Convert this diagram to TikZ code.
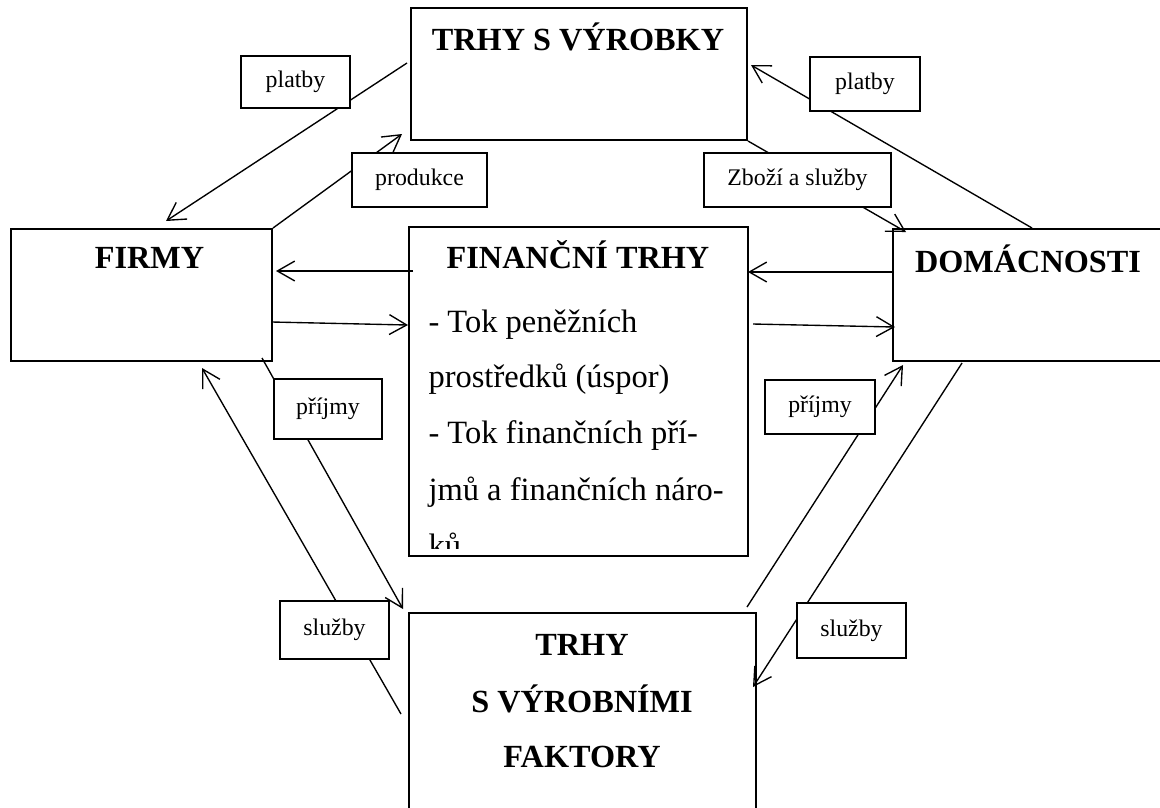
\documentclass[tikz,border=0pt]{standalone}
\usepackage{fontspec}
\setmainfont{Liberation Serif}
\usetikzlibrary{arrows.meta,positioning}

\tikzset{
	mainbox/.style={draw, line width=0.8pt, inner sep=0pt},
	flowlabel/.style={draw, fill=white, line width=0.6pt, inner sep=0pt, font=\fontsize{9.6}{11.5}\selectfont},
	headtext/.style={font=\fontsize{13}{16}\selectfont\bfseries, anchor=base, inner sep=0pt},
	bodytext/.style={font=\fontsize{13.1}{16}\selectfont, anchor=base west, inner sep=0pt},
	flow/.style={-{Straight Barb[length=7pt,width=8pt]}, line width=0.55pt},
}

\begin{document}
\begin{tikzpicture}[x=0.403pt, y=-0.403pt]
	\def\pxu{0.403pt}
	\useasboundingbox (0,0) rectangle (1160,807);
	
	% main boxes
	\node[mainbox, minimum width=336*\pxu, minimum height=132*\pxu] (vyrobky) at (579,74) {};
	\node[mainbox, minimum width=339*\pxu, minimum height=329*\pxu] (financni) at (578.5,391.5) {};
	\node[mainbox, minimum width=347*\pxu, minimum height=287*\pxu] (faktory) at (582.5,756.5) {};
	\node[mainbox, minimum width=261*\pxu, minimum height=132*\pxu] (firmy) at (141.5,295) {};
	\node[mainbox, minimum width=307*\pxu, minimum height=132*\pxu] (domacnosti) at (1046.5,295) {};
	
	% texts of the boxes
	\node[headtext] (vyrobkyT) at (578,50) {TRHY S VÝROBKY};
	\node[headtext] (firmyT) at (149.5,268) {FIRMY};
	\node[headtext] (domacnostiT) at (1028,272) {DOMÁCNOSTI};
	\node[headtext] (financniT) at (578,268) {FINANČNÍ TRHY};
	\node[bodytext] (fin1) at (428,332) {- Tok peněžních};
	\node[bodytext] (fin2) at (428,387) {prostředků (úspor)};
	\node[bodytext] (fin3) at (428,443) {- Tok finančních pří-};
	\node[bodytext] (fin4) at (428,500) {jmů a finančních náro-};
	\begin{scope}
		\clip (409,227) rectangle (748,548);
		\node[bodytext] (fin5) at (428,556) {ků};
	\end{scope}
	\node[headtext] (faktory1) at (582,655) {TRHY};
	\node[headtext] (faktory2) at (582,712) {S VÝROBNÍMI};
	\node[headtext] (faktory3) at (582,767) {FAKTORY};
	
	% end points of the flows
	\path (407,63) coordinate (platbyLs);
	\path (166,221) coordinate (platbyLe);
	\path (402,134) coordinate (produkceE);
	\path (906,232) coordinate (zboziE);
	\path (1032,228) coordinate (platbyRs);
	\path (751,65) coordinate (platbyRe);
	\path (413,271) coordinate (finFs);
	\path (276,271) coordinate (finFe);
	\path (272,322) coordinate (firFs);
	\path (408,325) coordinate (firFe);
	\path (894,272) coordinate (domFs);
	\path (748,272) coordinate (domFe);
	\path (753,324) coordinate (finDs);
	\path (895,327) coordinate (finDe);
	\path (262,358) coordinate (prijmyLs);
	\path (403,609) coordinate (prijmyLe);
	\path (401,714) coordinate (sluzbyLs);
	\path (202,368) coordinate (sluzbyLe);
	\path (747,607) coordinate (prijmyRs);
	\path (903,365) coordinate (prijmyRe);
	\path (962,363) coordinate (sluzbyRs);
	\path (753,687) coordinate (sluzbyRe);
	
	% flows
	\draw[flow] (platbyLs) -- (platbyLe);
	\draw[flow] (firmy.north east) -- (produkceE);
	\draw[flow] (vyrobky.south east) -- (zboziE);
	\draw[flow] (platbyRs) -- (platbyRe);
	\draw[flow] (finFs) -- (finFe);
	\draw[flow] (firFs) -- (firFe);
	\draw[flow] (domFs) -- (domFe);
	\draw[flow] (finDs) -- (finDe);
	\draw[flow] (prijmyLs) -- (prijmyLe);
	\draw[flow] (sluzbyLs) -- (sluzbyLe);
	\draw[flow] (prijmyRs) -- (prijmyRe);
	\draw[flow] (sluzbyRs) -- (sluzbyRe);
	
	% labels on the flows
	\node[flowlabel, minimum width=109*\pxu, minimum height=52*\pxu] (platbyL) at (295.5,82) {platby};
	\node[flowlabel, minimum width=135*\pxu, minimum height=54*\pxu] (produkce) at (419.5,180) {produkce};
	\node[flowlabel, minimum width=110*\pxu, minimum height=54*\pxu] (platbyR) at (865,84) {platby};
	\node[flowlabel, minimum width=187*\pxu, minimum height=54*\pxu] (zbozi) at (797.5,180) {Zboží a služby};
	\node[flowlabel, minimum width=108*\pxu, minimum height=60*\pxu] (prijmyL) at (328,409) {příjmy};
	\node[flowlabel, minimum width=110*\pxu, minimum height=54*\pxu] (prijmyR) at (820,407) {příjmy};
	\node[flowlabel, minimum width=109*\pxu, minimum height=58*\pxu] (sluzbyL) at (334.5,630) {služby};
	\node[flowlabel, minimum width=109*\pxu, minimum height=55*\pxu] (sluzbyR) at (851.5,630.5) {služby};
\end{tikzpicture}
\end{document}
